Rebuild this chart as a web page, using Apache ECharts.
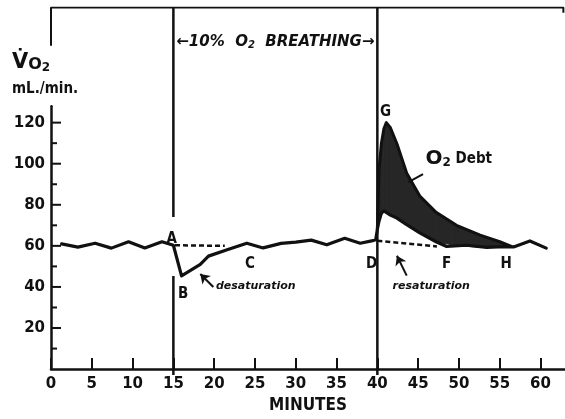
<!DOCTYPE html>
<html>
<head>
<meta charset="utf-8">
<script src="https://cdn.jsdelivr.net/npm/echarts@6/dist/echarts.min.js"></script>
<style>
html, body { margin: 0; padding: 0; background: #fff; }
#main { width: 565px; height: 419px; }
</style>
</head>
<body>
<div id="main"></div>
<script>
// VO2 trace (minutes, mL/min)
var traceT = [1.3, 3.3, 5.4, 7.4, 9.5, 11.5, 13.6, 15.0, 16.0, 18.3, 19.3, 21.5, 24.0, 26.0, 28.2, 30.0, 31.9, 33.8, 36.0, 37.9, 39.3, 39.8, 40.0, 40.2, 40.5, 40.8, 41.6, 42.4, 43.6, 45.2, 47.2, 48.5, 50.9, 53.4, 55.5, 56.7, 58.7, 60.7];
var traceV = [61, 59.4, 61.3, 58.9, 62, 59, 62, 60.3, 45.4, 51, 55, 58, 61.3, 59, 61.2, 61.8, 62.8, 60.5, 63.7, 61.3, 62.4, 63, 68, 72, 76, 77, 75, 73.5, 70.3, 66.3, 62, 59.7, 60.3, 59.3, 59.6, 59.5, 62.4, 58.9];

// O2 debt band: upper envelope and the trace under it
var debtT = [40.0, 40.2, 40.5, 40.8, 41.1, 41.6, 42.4, 43.6, 45.2, 47.2, 49.7, 52.6, 55.0, 56.5];
var debtHigh = [68, 97, 110, 117, 120, 117.5, 109.7, 95.4, 84.3, 76.3, 70, 65.2, 62, 59.6];
var debtLow = [68, 72, 76, 77, 76.3, 75, 73.5, 70.3, 66.3, 62, 60.1, 59.4, 59.5, 59.6];

// dashed baselines
var desatT = [15.2, 21.3];
var desatV = [60.3, 60.0];
var resatT = [40.0, 47.3];
var resatV = [62.5, 59.7];

// y ticks
var yMajor = [0, 20, 40, 60, 80, 100, 120];
var yMinor = [10, 30, 50, 70, 90, 110];

// letters on the trace
var noteText = ['A', 'B', 'C', 'D', 'F', 'H', 'G'];
var noteT = [14.8, 16.2, 24.4, 39.3, 48.5, 55.8, 41.0];
var noteV = [64.8, 38.6, 52.9, 52.9, 52.9, 52.9, 125.2];

// 10% O2 period
var breathStart = 15;
var breathEnd = 40;

var INK = '#111';
var COND = "'DejaVu Sans Condensed', 'DejaVu Sans'";
var SANS = "'DejaVu Sans'";

function pairs(xs, ys) {
  return xs.map(function (x, i) { return [x, ys[i]]; });
}

var chart = echarts.init(document.getElementById('main'));

var letterData = noteText.map(function (s, i) {
  return { name: s, value: [noteT[i], noteV[i]] };
});
letterData.push({
  name: 'desat', value: [25.1, 42.4],
  label: { formatter: 'desaturation', fontStyle: 'italic', fontFamily: SANS, fontSize: 11 }
});
letterData.push({
  name: 'resat', value: [46.6, 42.4],
  label: { formatter: 'resaturation', fontStyle: 'italic', fontFamily: SANS, fontSize: 11 }
});
letterData.push({
  name: 'debt', value: [45.9, 102.9],
  label: {
    formatter: '{o|O}{s|2}{d| Debt}', align: 'left',
    rich: {
      o: { fontSize: 20, fontWeight: 'bold', fontFamily: SANS, color: INK },
      s: { fontSize: 12, fontWeight: 'bold', fontFamily: SANS, color: INK, padding: [8, 0, 0, 0] },
      d: { fontSize: 15, fontWeight: 'bold', fontFamily: COND, color: INK }
    }
  }
});
letterData.push({
  name: 'breath', value: [27.5, 158.4],
  label: {
    formatter: '{i|\u219010%  O}{s|2}{i|  BREATHING\u2192}',
    rich: {
      i: { fontSize: 15, fontWeight: 'bold', fontStyle: 'italic', fontFamily: SANS, color: INK },
      s: { fontSize: 10, fontWeight: 'bold', fontStyle: 'italic', fontFamily: SANS, color: INK, padding: [7, 0, 0, 0] }
    }
  }
});

// short horizontal tick marks on the y axis, drawn through the scale
function tickSeries(values, len) {
  return {
    type: 'custom', xAxisIndex: 0, yAxisIndex: 0, z: 2, silent: true,
    data: values.map(function (v) { return [0, v]; }),
    renderItem: function (params, api) {
      var p = api.coord([0, api.value(1)]);
      return {
        type: 'line',
        shape: { x1: p[0], y1: p[1], x2: p[0] + len, y2: p[1] },
        style: { stroke: INK, lineWidth: 2 }
      };
    }
  };
}

var option = {
  animation: false,
  backgroundColor: '#fff',
  grid: [
    { left: 51, right: 0, top: 106.2, bottom: 44 },
    { left: 51, right: 0, top: 7.5, bottom: 44 }
  ],
  xAxis: [{
    gridIndex: 0,
    type: 'value',
    min: 0,
    max: 63,
    interval: 5,
    name: 'MINUTES',
    nameLocation: 'middle',
    nameGap: 25,
    nameTextStyle: { fontFamily: COND, fontWeight: 'bold', fontSize: 17, color: INK },
    axisLine: { lineStyle: { color: INK, width: 2.5 } },
    axisTick: { inside: true, length: 11, lineStyle: { color: INK, width: 2 } },
    axisLabel: {
      margin: 8, showMaxLabel: false,
      fontFamily: SANS, fontWeight: 'bold', fontSize: 15, color: INK
    },
    splitLine: { show: false }
  }, {
    gridIndex: 1,
    type: 'value',
    min: 0,
    max: 63,
    show: false
  }],
  yAxis: [{
    gridIndex: 0,
    type: 'value',
    min: 0,
    max: 128,
    interval: 20,
    axisLine: { show: true, lineStyle: { color: INK, width: 2.5 } },
    axisTick: { show: false },
    axisLabel: {
      margin: 6, showMinLabel: false, showMaxLabel: false,
      fontFamily: SANS, fontWeight: 'bold', fontSize: 15, color: INK
    },
    splitLine: { show: false }
  }, {
    gridIndex: 1,
    type: 'value',
    min: 0,
    max: 175,
    show: false
  }],
  graphic: [
    {
      type: 'text', left: 12, top: 52, z: 10,
      style: {
        text: '{v|V\u0307}{o|O}{s|2}',
        rich: {
          v: { fontSize: 21, fontWeight: 'bold', fontFamily: SANS, fill: INK },
          o: { fontSize: 16, fontWeight: 'bold', fontFamily: SANS, fill: INK, padding: [4, 0, 0, 0] },
          s: { fontSize: 12, fontWeight: 'bold', fontFamily: SANS, fill: INK, padding: [10, 0, 0, 0] }
        }
      }
    },
    {
      type: 'text', left: 12, top: 82, z: 10,
      style: { text: 'mL./min.', fontSize: 15, fontWeight: 'bold', fontFamily: COND, fill: INK }
    }
  ],
  series: [
    tickSeries(yMajor.slice(1), 10),
    tickSeries(yMinor, 6),
    // frame and the two event lines
    {
      type: 'line', xAxisIndex: 1, yAxisIndex: 1, z: 1, symbol: 'none', silent: true,
      lineStyle: { color: INK, width: 2 },
      data: [[0, 156.8], [0, 175], [62.8, 175], [62.8, 172.5]]
    },
    {
      type: 'line', xAxisIndex: 1, yAxisIndex: 1, z: 1, symbol: 'none', silent: true,
      lineStyle: { color: INK, width: 2.5 },
      data: [[breathStart, 175], [breathStart, 75.2]]
    },
    {
      type: 'line', xAxisIndex: 1, yAxisIndex: 1, z: 1, symbol: 'none', silent: true,
      lineStyle: { color: INK, width: 2.5 },
      data: [[breathStart, 47.1], [breathStart, 0]]
    },
    {
      type: 'line', xAxisIndex: 1, yAxisIndex: 1, z: 1, symbol: 'none', silent: true,
      lineStyle: { color: INK, width: 2.5 },
      data: [[breathEnd, 175], [breathEnd, 0]]
    },
    // O2 debt band
    {
      type: 'custom', xAxisIndex: 0, yAxisIndex: 0, z: 3, silent: true,
      data: debtT.map(function (t, i) { return [t, debtHigh[i], debtLow[i]]; }),
      encode: { x: 0, y: [1, 2] },
      renderItem: function (params, api) {
        var i = params.dataIndex;
        if (i >= debtT.length - 1) return null;
        var pts = [
          api.coord([debtT[i], debtLow[i]]),
          api.coord([debtT[i], debtHigh[i]]),
          api.coord([debtT[i + 1], debtHigh[i + 1]]),
          api.coord([debtT[i + 1], debtLow[i + 1]])
        ];
        return {
          type: 'polygon',
          shape: { points: pts },
          style: { fill: '#262626', stroke: '#262626', lineWidth: 1 }
        };
      }
    },
    {
      type: 'line', xAxisIndex: 0, yAxisIndex: 0, z: 4, symbol: 'none', silent: true,
      lineStyle: { color: INK, width: 3, join: 'round' },
      data: pairs(debtT, debtHigh)
    },
    // dashed baselines
    {
      type: 'line', xAxisIndex: 0, yAxisIndex: 0, z: 4, symbol: 'none', silent: true,
      lineStyle: { color: INK, width: 2.5, type: [5, 3] },
      data: pairs(desatT, desatV)
    },
    {
      type: 'line', xAxisIndex: 0, yAxisIndex: 0, z: 4, symbol: 'none', silent: true,
      lineStyle: { color: INK, width: 2.5, type: [5, 3] },
      data: pairs(resatT, resatV)
    },
    // main trace
    {
      type: 'line', xAxisIndex: 0, yAxisIndex: 0, z: 5, symbol: 'none', silent: true,
      lineStyle: { color: INK, width: 3.2, join: 'round', cap: 'round' },
      data: pairs(traceT, traceV)
    },
    // lettering, arrows
    {
      type: 'scatter', xAxisIndex: 1, yAxisIndex: 1, z: 6, symbolSize: 0, silent: true,
      itemStyle: { opacity: 1 },
      label: {
        show: true, position: 'inside', formatter: '{b}', opacity: 1,
        fontFamily: COND, fontWeight: 'bold', fontSize: 15, color: INK
      },
      data: letterData,
      markLine: {
        silent: true,
        symbol: ['none', 'arrow'],
        symbolSize: 9,
        label: { show: false },
        lineStyle: { color: INK, width: 2, type: 'solid', opacity: 1 },
        data: [
          [{ coord: [19.9, 41.9] }, { coord: [18.3, 48.1], lineStyle: { curveness: 0.1 } }],
          [{ coord: [43.6, 47.3] }, { coord: [42.4, 56.8], lineStyle: { curveness: -0.25 } }],
          [{ coord: [45.6, 95.7], symbol: 'none' }, { coord: [43.8, 91.8], symbol: 'none' }]
        ]
      }
    }
  ]
};

chart.setOption(option);
</script>
</body>
</html>
